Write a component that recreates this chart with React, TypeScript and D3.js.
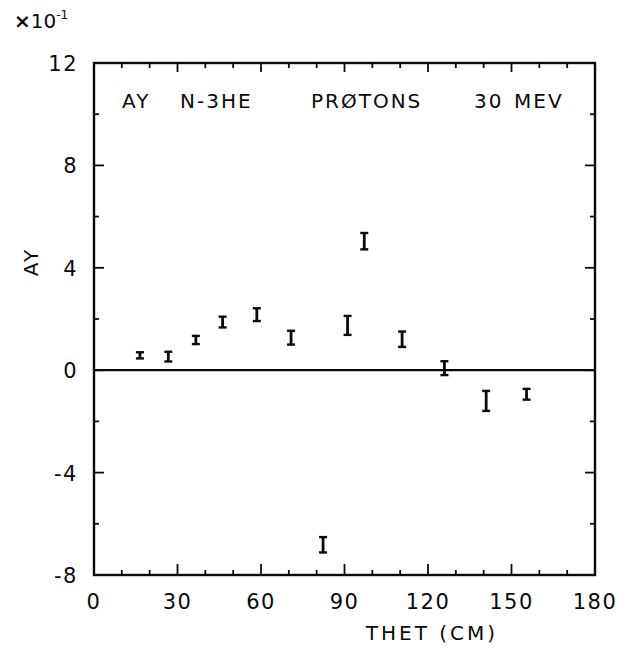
import React from "react";
import * as d3 from "d3";

const theta = [16.5, 26.7, 36.6, 46.2, 58.5, 70.8, 82.3, 91.1, 97.1, 110.7, 125.9, 140.9, 155.4];
const ay = [0.58, 0.53, 1.18, 1.88, 2.17, 1.27, -6.82, 1.75, 5.04, 1.21, 0.08, -1.2, -0.94];
const err = [0.12, 0.19, 0.16, 0.21, 0.25, 0.27, 0.3, 0.37, 0.32, 0.3, 0.27, 0.39, 0.21];

const xTickLabels = [0, 30, 60, 90, 120, 150, 180];
const yTickLabels = [12, 8, 4, 0, -4, -8];
const xMinor = d3.range(10, 180, 10);
const yMinor = d3.range(-6, 12, 2);

const titleWords = ["AY", "N-3HE", "PRØTONS", "30", "MEV"];
const titleX = [122, 180, 311, 474, 514];

const FONT = "'DejaVu Sans', sans-serif";

export default function App() {
  const W = 632, H = 648;
  const x = d3.scaleLinear().domain([0, 180]).range([94, 595]);
  const y = d3.scaleLinear().domain([-8, 12]).range([575, 63]);
  const [x0, x1] = x.range();
  const [yb, yt] = y.range();
  const ink = "#0a0a0a";

  return (
    <svg width={W} height={H} viewBox={`0 0 ${W} ${H}`}
      style={{ position: "absolute", left: 0, top: 0, background: "#fff" }}>
      <rect x={0} y={0} width={W} height={H} fill="#fff" />
      {/* frame */}
      <rect x={x0} y={yt} width={x1 - x0} height={yb - yt} fill="none" stroke={ink} strokeWidth={2.4} />
      {/* x ticks */}
      {xMinor.map((v) => {
        const major = v % 30 === 0;
        return (
          <g key={"xt" + v}>
            <line x1={x(v)} x2={x(v)} y1={yb} y2={yb - (major ? 11 : 5)} stroke={ink} strokeWidth={1.8} />
            <line x1={x(v)} x2={x(v)} y1={yt} y2={yt + (major ? 9 : 5)} stroke={ink} strokeWidth={1.8} />
          </g>
        );
      })}
      {/* y ticks */}
      {yMinor.map((v) => {
        const major = v % 4 === 0;
        return (
          <g key={"yt" + v}>
            <line x1={x0} x2={x0 + (major ? 10 : 5)} y1={y(v)} y2={y(v)} stroke={ink} strokeWidth={1.8} />
            <line x1={x1} x2={x1 - (major ? 10 : 5)} y1={y(v)} y2={y(v)} stroke={ink} strokeWidth={1.8} />
          </g>
        );
      })}
      {/* zero line */}
      <line x1={x0} x2={x1} y1={y(0)} y2={y(0)} stroke={ink} strokeWidth={2.2} />
      {/* x tick labels */}
      {xTickLabels.map((v) => (
        <text key={"xl" + v} x={x(v)} y={609} textAnchor="middle" fontFamily={FONT}
          fontSize={21} letterSpacing={1.5} fill={ink}>{v}</text>
      ))}
      {/* y tick labels */}
      {yTickLabels.map((v) => (
        <text key={"yl" + v} x={78} y={y(v) + 8} textAnchor="end" fontFamily={FONT}
          fontSize={21} letterSpacing={1.5} fill={ink}>{v}</text>
      ))}
      {/* axis titles */}
      <text x={432} y={640} textAnchor="middle" fontFamily={FONT} fontSize={20}
        letterSpacing={3} fill={ink}>THET (CM)</text>
      <text transform={`translate(38,262) rotate(-90)`} textAnchor="middle" fontFamily={FONT}
        fontSize={20} letterSpacing={2} fill={ink}>AY</text>
      {/* multiplier */}
      <text x={14} y={28} fontFamily={FONT} fontSize={20} fill={ink}>
        <tspan fontWeight="bold">×</tspan>
        <tspan>10</tspan>
        <tspan fontSize={12} dy={-9}>-1</tspan>
      </text>
      {/* title */}
      {titleWords.map((w, i) => (
        <text key={"tw" + i} x={titleX[i]} y={108} fontFamily={FONT} fontSize={20}
          letterSpacing={2} fill={ink}>{w}</text>
      ))}
      {/* data with error bars */}
      {theta.map((t, i) => {
        const cx = x(t);
        const ylo = y(ay[i] - err[i]);
        const yhi = y(ay[i] + err[i]);
        return (
          <g key={"pt" + i} stroke={ink}>
            <line x1={cx} x2={cx} y1={ylo} y2={yhi} strokeWidth={2.8} />
            <line x1={cx - 4} x2={cx + 4} y1={ylo} y2={ylo} strokeWidth={2.4} />
            <line x1={cx - 4} x2={cx + 4} y1={yhi} y2={yhi} strokeWidth={2.4} />
          </g>
        );
      })}
    </svg>
  );
}
